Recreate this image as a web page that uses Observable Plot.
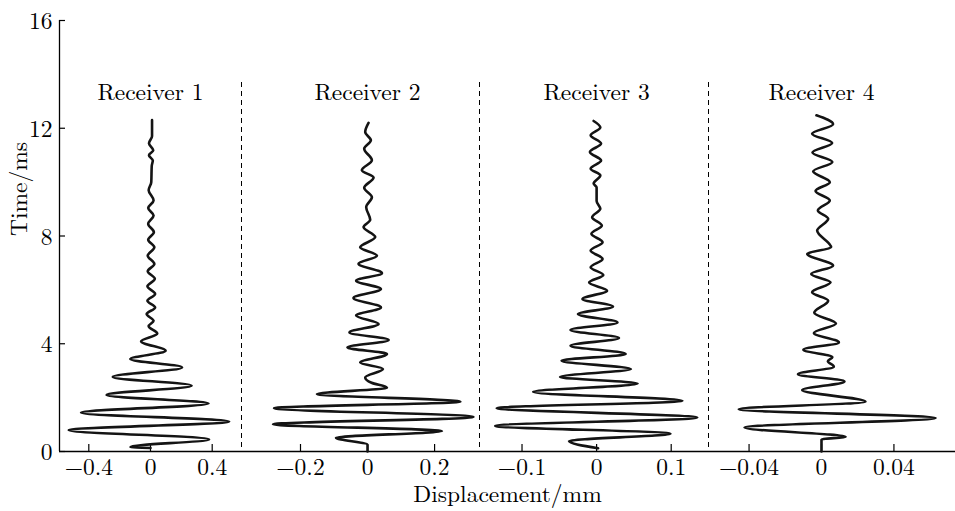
<!DOCTYPE html>
<html>
<head>
<meta charset="utf-8">
<script src="https://cdn.jsdelivr.net/npm/d3@7"></script>
<script src="https://cdn.jsdelivr.net/npm/@observablehq/plot@0.6"></script>
<style>
  html, body { margin: 0; padding: 0; background: #fff; }
  #chart { position: relative; width: 955px; height: 511px; font-family: 'Latin Modern Roman', 'CMU Serif', 'Liberation Serif', serif; color: #000; }
  #chart svg { position: absolute; top: 0; overflow: visible; background: none; }
  #chart svg text { font-family: 'Latin Modern Roman', 'CMU Serif', 'Liberation Serif', serif; }
</style>
</head>
<body>
<div id="chart"></div>
<script>
// ---- Data ----
const receivers = ["Receiver 1", "Receiver 2", "Receiver 3", "Receiver 4"];
const xLabel = "Displacement/mm";
const yLabel = "Time/ms";
const yTicks = [0, 4, 8, 12, 16];
const xTicks1 = [-0.4, 0, 0.4];
const xTicks2 = [-0.2, 0, 0.2];
const xTicks3 = [-0.1, 0, 0.1];
const xTicks4 = [-0.04, 0, 0.04];

// Receiver 1: time (ms) and displacement (mm) at turning points
const r1Time = [0.13, 0.17, 0.45, 0.79, 1.11, 1.44, 1.78, 2.10, 2.44, 2.77, 3.12, 3.43, 3.74, 4.09, 4.38, 4.65, 4.85, 5.10, 5.35, 5.60, 5.85, 6.13, 6.41, 6.69, 6.96, 7.27, 7.58, 7.86, 8.14, 8.45, 8.76, 9.04, 9.32, 9.70, 10.00, 10.60, 10.80, 11.00, 11.18, 11.44, 11.70, 12.30];
const r1Disp = [0, -0.13, 0.38, -0.53, 0.51, -0.45, 0.376, -0.285, 0.267, -0.245, 0.205, -0.131, 0.098, -0.061, 0.044, -0.012, 0.02, -0.025, 0.03, -0.02, 0.03, -0.02, 0.028, -0.018, 0.025, -0.018, 0.025, -0.015, 0.022, -0.015, 0.02, -0.015, 0.02, -0.012, 0.005, 0.008, 0.015, -0.01, 0.018, -0.01, 0.01, 0.01];

// Receiver 2
const r2Time = [0, 0.25, 0.51, 0.76, 1.01, 1.28, 1.61, 1.85, 2.13, 2.37, 2.55, 2.75, 3.06, 3.30, 3.62, 3.86, 4.14, 4.42, 4.73, 5.05, 5.35, 5.70, 6.03, 6.34, 6.62, 6.97, 7.27, 7.58, 7.96, 8.33, 8.60, 9.07, 9.44, 9.79, 10.17, 10.44, 10.81, 11.24, 11.55, 11.86, 12.20];
const r2Disp = [0, 0, -0.094, 0.222, -0.282, 0.316, -0.279, 0.277, -0.151, 0.058, 0.012, -0.007, 0.046, -0.022, 0.058, -0.06, 0.063, -0.054, 0.033, -0.034, 0.04, -0.042, 0.04, -0.034, 0.043, -0.027, 0.028, -0.022, 0.023, -0.012, 0.008, -0.004, 0.013, -0.01, 0.018, -0.017, 0.013, -0.01, 0.01, -0.007, 0.003];

// Receiver 3
const r3Time = [0.12, 0.39, 0.66, 0.95, 1.26, 1.61, 1.88, 2.21, 2.52, 2.77, 3.06, 3.37, 3.62, 3.93, 4.21, 4.51, 4.79, 5.10, 5.38, 5.66, 5.97, 6.27, 6.55, 6.84, 7.15, 7.46, 7.77, 8.08, 8.39, 8.70, 9.01, 9.30, 9.80, 9.95, 10.25, 10.50, 10.80, 11.12, 11.43, 11.74, 12.03, 12.27];
const r3Disp = [0.002, -0.037, 0.099, -0.136, 0.135, -0.134, 0.115, -0.085, 0.055, -0.049, 0.046, -0.047, 0.039, -0.035, 0.03, -0.035, 0.028, -0.025, 0.022, -0.019, 0.014, -0.01, 0.009, -0.008, 0.008, -0.008, 0.008, -0.007, 0.007, -0.006, 0.005, 0, 0, -0.004, 0.005, -0.008, 0.006, -0.009, 0.006, -0.008, 0.005, -0.004];

// Receiver 4
const r4Time = [0, 0.45, 0.54, 0.89, 1.24, 1.57, 1.85, 2.28, 2.60, 2.87, 3.15, 3.35, 3.50, 3.78, 4.05, 4.40, 4.75, 5.15, 5.60, 5.91, 6.28, 6.59, 6.90, 7.34, 7.58, 8.20, 8.64, 8.95, 9.32, 9.67, 10.00, 10.40, 10.75, 11.10, 11.45, 11.80, 12.15, 12.48];
const r4Disp = [0, 0, 0.0133, -0.0425, 0.063, -0.0457, 0.0243, -0.0107, 0.0127, -0.013, 0.0068, 0.0035, 0.006, -0.010, 0.0096, -0.0042, 0.008, -0.004, 0.0037, -0.0052, 0.005, -0.0057, 0.0064, -0.0079, 0.0053, -0.0024, 0.0037, -0.002, 0.0046, -0.0033, 0.0046, -0.0046, 0.006, -0.005, 0.0059, -0.0052, 0.0064, -0.0028];

// x-scale domains of the four panels (mm)
const xDomain1 = [-0.59, 0.59];
const xDomain2 = [-0.376, 0.334];
const xDomain3 = [-0.157, 0.150];
const xDomain4 = [-0.0624, 0.074];

// ---- Layout ----
const W = 955, H = 511, MT = 20, MB = 60;
const frameH = H - MT - MB;
const panelEdges = [59, 241, 479, 708, 955];
const FS = 23.5;
const FONT = "'Latin Modern Roman', 'CMU Serif', 'Liberation Serif', serif";
const baseStyle = {background: "none", overflow: "visible", fontFamily: FONT, fontSize: FS + "px", color: "#000"};

const series = [
  {time: r1Time, disp: r1Disp, ticks: xTicks1, domain: xDomain1},
  {time: r2Time, disp: r2Disp, ticks: xTicks2, domain: xDomain2},
  {time: r3Time, disp: r3Disp, ticks: xTicks3, domain: xDomain3},
  {time: r4Time, disp: r4Disp, ticks: xTicks4, domain: xDomain4}
];
const fmt = d3.format("");
const chart = document.getElementById("chart");

series.forEach((s, i) => {
  const rows = s.time.map((t, k) => ({t, d: s.disp[k]}));
  const first = i === 0;
  const left = first ? 0 : panelEdges[i];
  const ml = first ? panelEdges[0] : 0;
  const frameW = panelEdges[i + 1] - panelEdges[i];
  const marks = [
    Plot.ruleY([0], {strokeWidth: 1.3}),
    Plot.tickX(s.ticks, {x: d => d, insetTop: frameH - 7, strokeWidth: 1.2}),
    Plot.axisX(s.ticks, {tickSize: 0, tickPadding: 7, fontSize: FS, tickFormat: fmt, label: null}),
    Plot.text([receivers[i]], {x: 0, frameAnchor: "top", dy: 63, fontSize: FS}),
    Plot.line(rows, {x: "d", y: "t", curve: "monotone-y", stroke: "#141414", strokeWidth: 2.6})
  ];
  if (first) {
    marks.push(
      Plot.ruleX([s.domain[0]], {strokeWidth: 1.3}),
      Plot.tickY(yTicks, {y: d => d, insetRight: frameW - 6, strokeWidth: 1.2}),
      Plot.axisY(yTicks, {tickSize: 0, tickPadding: 7, dy: 1, fontSize: FS, tickFormat: fmt, label: null}),
      Plot.text([yLabel], {frameAnchor: "left", dx: -40, rotate: -90, fontSize: FS})
    );
  } else {
    marks.push(Plot.ruleX([s.domain[0]], {insetTop: 62, strokeWidth: 1, strokeDasharray: "5,4"}));
  }
  const svg = Plot.plot({
    width: ml + frameW,
    height: H,
    marginLeft: ml, marginRight: 0, marginTop: MT, marginBottom: MB,
    x: {domain: s.domain, axis: null},
    y: {domain: [0, 16], axis: null},
    style: baseStyle,
    marks
  });
  svg.style.left = left + "px";
  chart.appendChild(svg);
});

// Shared x-axis title, centred under the whole frame
const labelSvg = Plot.plot({
  width: W, height: H,
  marginLeft: panelEdges[0], marginRight: 0, marginTop: MT, marginBottom: MB,
  x: {axis: null}, y: {axis: null},
  style: baseStyle,
  marks: [Plot.text([xLabel], {frameAnchor: "bottom", dy: 50, fontSize: FS})]
});
labelSvg.style.left = "0px";
chart.appendChild(labelSvg);
</script>
</body>
</html>
